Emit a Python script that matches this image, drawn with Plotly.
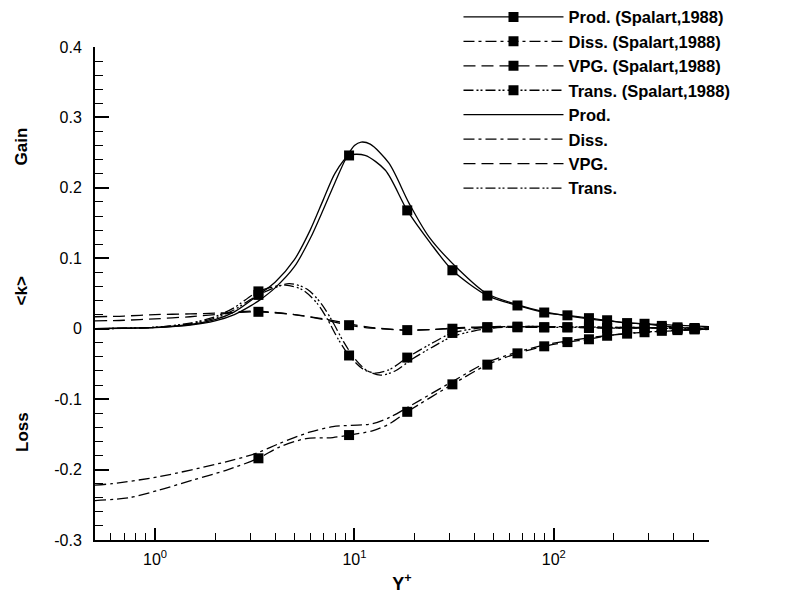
import plotly.graph_objects as go

# ---------------- data ----------------
# Spalart (1988) DNS - line data
sp_prod_x = [0.5, 0.7, 1, 1.5, 2, 2.5, 3.3, 4, 5, 6, 7, 8, 9.4, 11.3, 14.3, 18.4, 24, 31, 46.4, 65.7, 89.5, 117, 150, 185, 233, 285, 348, 417, 508, 600]
sp_prod_y = [0.0, 0.001, 0.002, 0.006, 0.013, 0.024, 0.048, 0.066, 0.098, 0.140, 0.184, 0.221, 0.246, 0.246, 0.225, 0.168, 0.122, 0.083, 0.047, 0.033, 0.023, 0.019, 0.015, 0.012, 0.008, 0.007, 0.004, 0.002, 0.001, 0.001]

sp_diss_x = [0.5, 0.74, 1.05, 1.54, 2.27, 3.3, 4.2, 5.72, 7.8, 9.4, 12.3, 15, 18.4, 31, 46.4, 65.7, 89.5, 117, 150, 185, 233, 285, 348, 417, 508, 600]
sp_diss_y = [-0.244, -0.240, -0.229, -0.215, -0.201, -0.184, -0.168, -0.156, -0.1545, -0.151, -0.145, -0.135, -0.118, -0.079, -0.051, -0.035, -0.025, -0.019, -0.015, -0.010, -0.007, -0.005, -0.003, -0.002, -0.001, -0.001]

sp_vpg_x = [0.5, 0.7, 1, 1.5, 2, 2.5, 3.3, 5, 7, 9.4, 12, 18.4, 31, 46.4, 65.7, 89.5, 117, 150, 185, 233, 285, 348, 417, 508, 600]
sp_vpg_y = [0.017, 0.018, 0.020, 0.021, 0.022, 0.023, 0.024, 0.020, 0.013, 0.005, 0.001, -0.002, 0.0, 0.002, 0.002, 0.002, 0.002, 0.001, 0.001, 0.001, 0.001, 0.0005, 0.0, 0.0, 0.0]

sp_trans_x = [0.5, 1, 1.5, 2, 2.5, 3.3, 4.5, 5.5, 6.5, 7.3, 8.3, 9.4, 11, 12.7, 15, 18.4, 24, 31, 46.4, 65.7, 89.5, 117, 150, 185, 233, 285, 348, 417, 508, 600]
sp_trans_y = [0.0, 0.002, 0.008, 0.017, 0.030, 0.053, 0.062, 0.055, 0.036, 0.014, -0.015, -0.038, -0.057, -0.063, -0.058, -0.041, -0.022, -0.006, 0.002, 0.003, 0.002, 0.002, 0.002, 0.001, 0.001, 0.001, 0.001, 0.0, 0.0, 0.0]

# Spalart (1988) - symbol positions
sym_x = [3.3, 9.4, 18.4, 31, 46.4, 65.7, 89.5, 117, 150, 185, 233, 285, 348, 417, 508]
sym_prod = [0.048, 0.246, 0.168, 0.083, 0.047, 0.033, 0.023, 0.019, 0.015, 0.012, 0.008, 0.007, 0.004, 0.002, 0.001]
sym_diss = [-0.184, -0.151, -0.118, -0.079, -0.051, -0.035, -0.025, -0.019, -0.015, -0.010, -0.007, -0.005, -0.003, -0.002, -0.001]
sym_vpg = [0.024, 0.005, -0.002, 0.0, 0.002, 0.002, 0.002, 0.002, 0.001, 0.001, 0.001, 0.001, 0.0005, 0.0, 0.0]
sym_trans = [0.053, -0.038, -0.041, -0.006, 0.002, 0.003, 0.002, 0.002, 0.002, 0.001, 0.001, 0.001, 0.001, 0.0, 0.0]

# Present simulation
pr_prod_x = [0.5, 0.7, 1, 1.5, 2, 2.5, 3, 3.4, 4, 5, 6, 7, 8, 9, 10, 10.8, 12, 14.9, 18.8, 23.7, 33.6, 46, 66, 90, 150, 250, 400, 600]
pr_prod_y = [0.0, 0.0005, 0.0015, 0.005, 0.011, 0.020, 0.032, 0.042, 0.058, 0.088, 0.128, 0.170, 0.208, 0.240, 0.260, 0.265, 0.262, 0.235, 0.178, 0.130, 0.083, 0.050, 0.034, 0.024, 0.014, 0.008, 0.005, 0.003]

pr_diss_x = [0.5, 0.61, 1.05, 2.27, 3.21, 4.2, 5.95, 7.8, 12.3, 15, 18.4, 31, 46, 66, 90, 150, 250, 400, 600]
pr_diss_y = [-0.222, -0.220, -0.210, -0.189, -0.177, -0.163, -0.147, -0.139, -0.135, -0.126, -0.112, -0.075, -0.048, -0.033, -0.023, -0.013, -0.006, -0.003, -0.001]

pr_vpg_x = [0.5, 0.7, 1, 1.5, 2, 2.5, 3, 4, 5, 7, 9.4, 12, 18, 25, 31, 50, 100, 200, 600]
pr_vpg_y = [0.011, 0.012, 0.014, 0.017, 0.020, 0.023, 0.025, 0.023, 0.020, 0.014, 0.007, 0.002, -0.002, -0.001, 0.001, 0.003, 0.003, 0.002, 0.001]

pr_trans_x = [0.5, 1, 1.5, 2, 2.5, 3.3, 4.7, 5.8, 6.8, 7.7, 8.8, 10, 11.5, 13.5, 16, 19.5, 25, 31, 40, 50, 70, 100, 200, 600]
pr_trans_y = [0.0, 0.002, 0.007, 0.015, 0.027, 0.048, 0.064, 0.056, 0.036, 0.012, -0.018, -0.042, -0.059, -0.066, -0.060, -0.043, -0.025, -0.011, -0.003, 0.001, 0.003, 0.003, 0.002, 0.001]

x_tickvals = [1, 10, 100]
x_ticktext = ["10<sup>0</sup>", "10<sup>1</sup>", "10<sup>2</sup>"]
y_tickvals = [-0.3, -0.2, -0.1, 0, 0.1, 0.2, 0.3, 0.4]
y_ticktext = ["-0.3", "-0.2", "-0.1", "0", "0.1", "0.2", "0.3", "0.4"]

names_sp = ["Prod. (Spalart,1988)", "Diss. (Spalart,1988)", "VPG. (Spalart,1988)", "Trans. (Spalart,1988)"]
names_pr = ["Prod.", "Diss.", "VPG.", "Trans."]

# ---------------- styles ----------------
DASH = {
    "prod": "solid",
    "diss": "11px,4px,3px,4px",
    "vpg": "12px,6px",
    "trans": "10px,3px,2px,2px,2px,3px",
}
LW = 1.3
MS = 10
FONT = "Liberation Sans, Arial, Helvetica, sans-serif"

fig = go.Figure()

sp_sets = [
    ("prod", sp_prod_x, sp_prod_y, sym_prod),
    ("diss", sp_diss_x, sp_diss_y, sym_diss),
    ("vpg", sp_vpg_x, sp_vpg_y, sym_vpg),
    ("trans", sp_trans_x, sp_trans_y, sym_trans),
]
pr_sets = [
    ("prod", pr_prod_x, pr_prod_y),
    ("diss", pr_diss_x, pr_diss_y),
    ("vpg", pr_vpg_x, pr_vpg_y),
    ("trans", pr_trans_x, pr_trans_y),
]

# legend entries for the Spalart series (line + symbol)
for (key, _, _, _), nm in zip(sp_sets, names_sp):
    fig.add_trace(go.Scatter(x=[None], y=[None], mode="lines+markers", name="<b>" + nm + "</b>",
                             legendgroup=nm,
                             line=dict(color="black", width=LW, dash=DASH[key]),
                             marker=dict(symbol="square", size=MS, color="black")))

# present curves (with legend)
for (key, xs, ys), nm in zip(pr_sets, names_pr):
    fig.add_trace(go.Scatter(x=xs, y=ys, mode="lines", name="<b>" + nm + "</b>", legendgroup=nm,
                             line=dict(color="black", width=LW, dash=DASH[key],
                                       shape="spline", smoothing=0.8)))

# Spalart curves and symbols
for (key, xs, ys, sy), nm in zip(sp_sets, names_sp):
    fig.add_trace(go.Scatter(x=xs, y=ys, mode="lines", showlegend=False, legendgroup=nm,
                             line=dict(color="black", width=LW, dash=DASH[key],
                                       shape="spline", smoothing=0.8)))
    fig.add_trace(go.Scatter(x=sym_x, y=sy, mode="markers", showlegend=False, legendgroup=nm,
                             marker=dict(symbol="square", size=MS, color="black")))

axis_common = dict(
    showline=True, linecolor="black", linewidth=2,
    ticks="inside", tickcolor="black", tickwidth=1.5,
    showgrid=False, zeroline=False, mirror=False,
    tickfont=dict(family=FONT, size=16, color="black"),
)

fig.update_xaxes(type="log", range=[-0.30103, 2.778151],
                 tickvals=x_tickvals, ticktext=x_ticktext, ticklen=12,
                 ticklabelstandoff=4,
                 minor=dict(ticks="inside", ticklen=7, tickwidth=1.2, tickcolor="black",
                            dtick="D1", showgrid=False),
                 title=dict(text="<b>Y<sup>+</sup></b>", font=dict(family=FONT, size=18, color="black"),
                            standoff=10),
                 **axis_common)
fig.update_yaxes(range=[-0.3, 0.4], tickvals=y_tickvals, ticktext=y_ticktext, ticklen=14,
                 minor=dict(ticks="inside", ticklen=8, tickwidth=1.2, tickcolor="black",
                            dtick=0.02, showgrid=False),
                 ticklabelstandoff=8,
                 **axis_common)

for txt, yp in [("Gain", 0.798), ("&lt;k&gt;", 0.506), ("Loss", 0.219)]:
    fig.add_annotation(text="<b>" + txt + "</b>", xref="paper", yref="paper", x=-0.119, y=yp,
                       textangle=-90, showarrow=False, xanchor="center", yanchor="middle",
                       font=dict(family=FONT, size=17, color="black"))

fig.update_layout(
    width=791, height=601,
    margin=dict(l=95, r=82, t=47, b=61, autoexpand=False),
    paper_bgcolor="white", plot_bgcolor="white",
    showlegend=True,
    legend=dict(x=0.592, y=1.096, xanchor="left", yanchor="top",
                bgcolor="rgba(0,0,0,0)", itemwidth=100, tracegroupgap=0,
                font=dict(family=FONT, size=16.5, color="black"),
                traceorder="normal"),
)

fig.write_html("out.html")
